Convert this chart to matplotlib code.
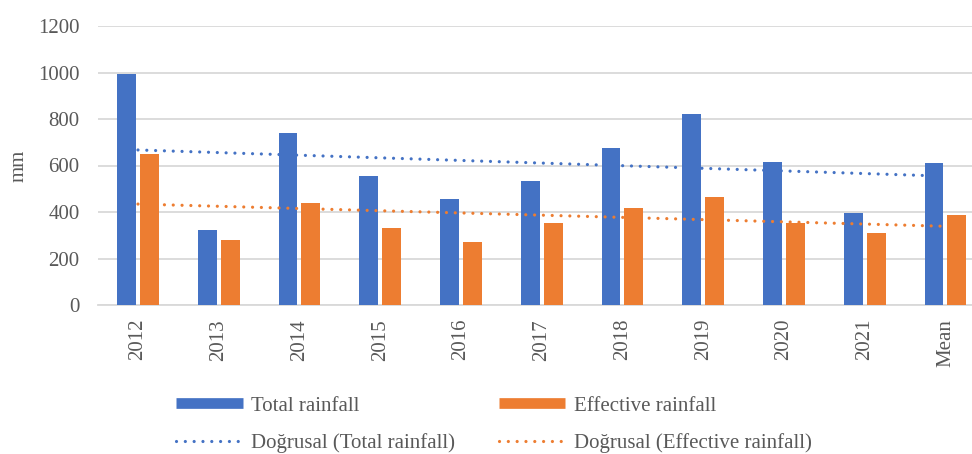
import numpy as np
import matplotlib
matplotlib.use("Agg")
import matplotlib.pyplot as plt
from matplotlib.lines import Line2D

categories = ["2012", "2013", "2014", "2015", "2016", "2017", "2018", "2019", "2020", "2021", "Mean"]
total_rainfall = [995, 321, 740, 553, 454, 535, 674, 821, 615, 397, 610]
effective_rainfall = [650, 279, 440, 331, 271, 351, 417, 464, 351, 310, 386]
yticks = [0, 200, 400, 600, 800, 1000, 1200]

BLUE = "#4472C4"
ORANGE = "#ED7D31"
TEXT = "#595959"
GRID = "#D9D9D9"

plt.rcParams["font.family"] = ["Liberation Serif", "DejaVu Serif"]

W, H = 972, 454
fig = plt.figure(figsize=(W / 100, H / 100), dpi=100)

cat_w = 80.75
left_px, top_px, bottom_px = 97.6, 26, 305
ax = fig.add_axes([left_px / W, 1 - bottom_px / H,
                   len(categories) * cat_w / W, (bottom_px - top_px) / H])

x = np.arange(len(categories))
bw = 0.235
off = 0.142
ax.bar(x - off, total_rainfall, bw, color=BLUE, zorder=3)
ax.bar(x + off, effective_rainfall, bw, color=ORANGE, zorder=3)

# Linear trend lines over all categories
dot = dict(linestyle=(0, (0.01, 2.75)), linewidth=2.3, dash_capstyle="round", zorder=4)
for vals, col in [(total_rainfall, BLUE), (effective_rainfall, ORANGE)]:
    k, b = np.polyfit(x + 1, vals, 1)
    ax.plot(x, k * (x + 1) + b, color=col, **dot)

ax.set_xlim(-0.5, len(categories) - 0.5)
ax.set_ylim(0, 1200)
ax.set_yticks(yticks)
ax.set_yticklabels([str(v) for v in yticks])
ax.set_xticks(x)
ax.set_xticklabels(categories, rotation=90)
ax.tick_params(axis="both", length=0, labelsize=15, labelcolor=TEXT)
ax.tick_params(axis="y", pad=13)
ax.tick_params(axis="x", pad=10)
ax.yaxis.grid(True, color=GRID, linewidth=1.3, zorder=0)
ax.set_axisbelow(True)
for s in ["top", "right", "left"]:
    ax.spines[s].set_visible(False)
ax.spines["bottom"].set_color(GRID)
ax.spines["bottom"].set_linewidth(1.3)
ax.set_ylabel("mm", fontsize=15, color=TEXT, labelpad=7)

handles = [
    Line2D([], [], color=BLUE, linewidth=7.7, solid_capstyle="butt"),
    Line2D([], [], color=BLUE, **dot),
    Line2D([], [], color=ORANGE, linewidth=7.7, solid_capstyle="butt"),
    Line2D([], [], color=ORANGE, **dot),
]
labels = ["Total rainfall", "Doğrusal (Total rainfall)",
          "Effective rainfall", "Doğrusal (Effective rainfall)"]
leg = fig.legend(handles, labels, ncol=2, loc="upper left",
                 bbox_to_anchor=(176 / W, 1 - 396 / H), frameon=False,
                 fontsize=15, labelcolor=TEXT, handlelength=3.2,
                 handletextpad=0.4, columnspacing=2.1, labelspacing=0.85,
                 borderaxespad=0, borderpad=0)

fig.savefig("out.png", dpi=100)
